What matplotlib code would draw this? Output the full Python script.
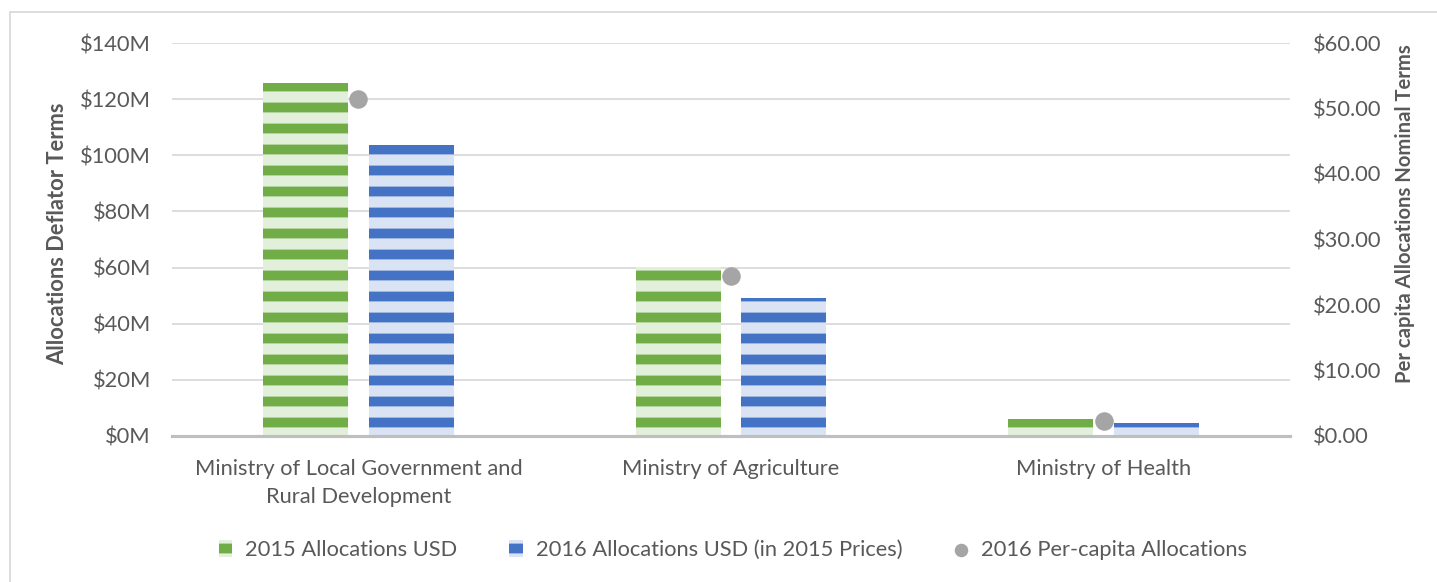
import matplotlib.pyplot as plt
import matplotlib.patches as mpatches
import matplotlib.ticker as mticker
import matplotlib.hatch as mhatch
from matplotlib.path import Path
import numpy as np

# data
ministries = ["Ministry of Local Government and\nRural Development",
              "Ministry of Agriculture",
              "Ministry of Health"]
alloc_2015 = [125.8, 60.2, 6.1]          # USD millions
alloc_2016 = [103.7, 49.2, 4.6]          # USD millions, 2015 prices
per_capita_2016 = [51.4, 24.4, 2.3]      # USD

green_dark, green_light = "#70AD47", "#E2EFDA"
blue_dark, blue_light = "#4472C4", "#DAE3F3"
grey_dot = "#A5A5A5"
text_col = "#595959"

DPI = 126
FS = 12.5
SHIFT = 8.0 / DPI


# horizontal stripes, shifted so bars end on a light band like the original
class ShiftedHorizontal(mhatch.HatchPatternBase):
    def __init__(self, hatch, density):
        self.num_lines = int((hatch.count('-') + hatch.count('+')) * density)
        self.num_vertices = (self.num_lines + 1) * 2 if self.num_lines else 0

    def set_vertices_and_codes(self, vertices, codes):
        n = self.num_lines
        steps = (np.arange(-1, n) + 0.5) / n + SHIFT
        vertices[0::2, 0] = 0.0
        vertices[0::2, 1] = steps
        vertices[1::2, 0] = 1.0
        vertices[1::2, 1] = steps
        codes[0::2] = Path.MOVETO
        codes[1::2] = Path.LINETO


mhatch._hatch_types = [ShiftedHorizontal if t is mhatch.HorizontalHatch else t
                       for t in mhatch._hatch_types]

plt.rcParams['font.family'] = ['Lato', 'DejaVu Sans']
plt.rcParams['hatch.linewidth'] = 5.6

fig = plt.figure(figsize=(1437 / DPI, 582 / DPI), dpi=DPI)
W, H = 1437, 582

# outer chart border
fig.patches.append(mpatches.Rectangle((10 / W, -0.1), 1.2, 1 - 12 / H + 0.1,
                                      transform=fig.transFigure, fill=False,
                                      edgecolor="#D9D9D9", linewidth=1.0))

ax = fig.add_axes([172 / W, (582 - 436) / H, (1290 - 172) / W, (436 - 43) / H])
x = np.arange(len(ministries))
width = 0.228
off = 0.142

b1 = ax.bar(x - off, alloc_2015, width, facecolor=green_light, edgecolor=green_dark,
            linewidth=0, hatch='-', label="2015 Allocations USD", zorder=2)
b2 = ax.bar(x + off, alloc_2016, width, facecolor=blue_light, edgecolor=blue_dark,
            linewidth=0, hatch='-', label="2016 Allocations USD (in 2015 Prices)", zorder=2)

ax.set_xlim(-0.5, 2.5)
ax.set_ylim(0, 140)
ax.set_yticks(np.arange(0, 141, 20))
ax.yaxis.set_major_formatter(mticker.FuncFormatter(lambda v, p: f"${v:.0f}M"))
ax.grid(axis='y', color="#D9D9D9", linewidth=1.0, zorder=0)
ax.set_axisbelow(True)
for s in ["top", "left", "right"]:
    ax.spines[s].set_visible(False)
ax.spines["bottom"].set_color("#BFBFBF")
ax.spines["bottom"].set_linewidth(1.8)
ax.spines["bottom"].set_zorder(3)
ax.set_xticks(x)
ax.set_xticklabels(ministries, linespacing=1.5)
ax.tick_params(axis='both', length=0, labelsize=FS, labelcolor=text_col)
ax.tick_params(axis='y', pad=12)
ax.tick_params(axis='x', pad=13)
ax.set_ylabel("Allocations Deflator Terms", fontsize=FS, fontweight='bold',
              color=text_col)
ax.yaxis.set_label_coords(-(172 - 68) / (1290 - 172), 0.515)

ax2 = ax.twinx()
dots = ax2.scatter(x, per_capita_2016, s=92, color=grey_dot, zorder=4,
                   label="2016 Per-capita Allocations")
ax2.set_ylim(0, 60)
ax2.set_yticks(np.arange(0, 61, 10))
ax2.yaxis.set_major_formatter(mticker.FuncFormatter(lambda v, p: f"${v:.2f}"))
for s in ax2.spines.values():
    s.set_visible(False)
ax2.tick_params(axis='y', length=0, labelsize=FS, labelcolor=text_col, pad=13)
ax2.set_ylabel("Per capita Allocations Nominal Terms", fontsize=11.6,
               fontweight='bold', color=text_col)
ax2.yaxis.set_label_coords(1 + (1395 - 1290) / (1290 - 172), 0.565)

leg = fig.legend(handles=[b1, b2, dots], loc='center', bbox_to_anchor=(0.51, 1 - 550 / H),
                 ncol=3, frameon=False, fontsize=FS, labelcolor=text_col,
                 handlelength=0.6, handleheight=0.8, handletextpad=0.6,
                 columnspacing=2.4, markerscale=0.7)

fig.savefig("out.png", dpi=DPI)
